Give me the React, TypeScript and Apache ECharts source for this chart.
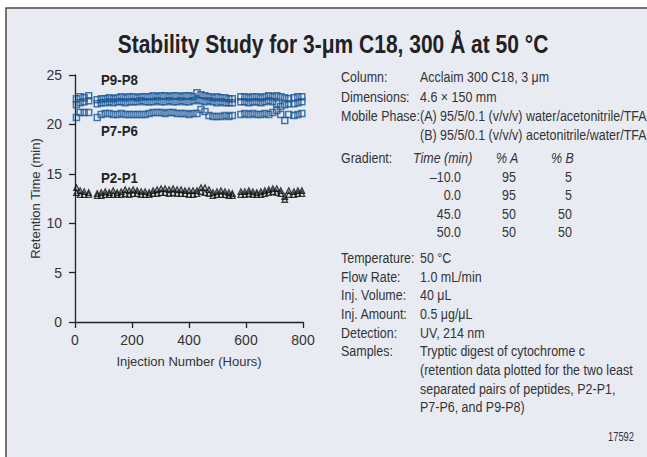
import React, { useEffect, useRef } from "react";
import * as echarts from "echarts";

// Injection time (hours) for each measurement
const hours = [
  5, 18, 32, 48,
  78, 92, 106, 120, 134, 148, 162, 176, 190, 204, 218, 232, 246,
  260, 274, 288, 302, 316, 330, 344, 358, 372, 386, 400, 414, 428, 442, 456, 470, 484, 498, 512, 526, 540, 552,
  582, 596, 610, 624, 638, 652, 666, 680, 694, 708, 722, 736, 750,
  768, 782, 796, 808,
];

const p9 = [
  22.6, 22.8, 22.7, 22.9,
  22.5, 22.6, 22.6, 22.7, 22.6, 22.7, 22.8, 22.7, 22.8, 22.8, 22.7, 22.8, 22.8,
  22.8, 22.9, 22.8, 22.9, 22.9, 22.8, 22.9, 22.9, 22.8, 22.9, 22.9, 22.8, 23.2, 23.0, 22.9, 22.8, 22.7, 22.8, 22.7, 22.7, 22.6, 22.6,
  22.8, 22.8, 22.7, 22.8, 22.8, 22.7, 22.8, 22.9, 22.8, 22.9, 22.8, 22.7, 22.6,
  22.7, 22.8, 22.8, 22.7,
];

const p8 = [
  22.0, 22.2, 22.3, 22.4,
  22.1, 22.2, 22.2, 22.3, 22.2, 22.3, 22.3, 22.2, 22.3, 22.3, 22.3, 22.4, 22.3,
  22.3, 22.3, 22.4, 22.3, 22.3, 22.4, 22.3, 22.3, 22.4, 22.3, 22.3, 22.4, 22.5, 22.4, 22.3, 22.4, 22.3, 22.2, 22.3, 22.2, 22.2, 22.2,
  22.3, 22.3, 22.2, 22.3, 22.3, 22.2, 22.3, 22.4, 22.3, 22.1, 21.8, 22.0, 22.1,
  22.1, 22.2, 22.3, 22.2,
];

const p7p6 = [
  20.7, 21.2, 21.2, 21.2,
  20.7, 21.0, 21.1, 21.1, 21.0, 21.0, 21.1, 21.0, 21.0, 21.0, 21.0, 21.0, 21.0,
  21.1, 21.2, 21.2, 21.2, 21.1, 21.2, 21.2, 21.1, 21.1, 21.1, 21.0, 21.1, 21.1, 21.5, 21.3, 20.9, 20.8, 20.8, 20.8, 20.9, 20.8, 20.9,
  21.0, 21.1, 21.0, 21.1, 21.0, 21.0, 21.1, 21.0, 21.2, 21.4, 21.0, 20.4, 21.0,
  20.9, 21.0, 21.1, 21.1,
];

const p2 = [
  13.6, 13.3, 13.2, 13.1,
  13.0, 13.1, 13.2, 13.1, 13.3, 13.1, 13.2, 13.4, 13.3, 13.4, 13.3, 13.2, 13.2,
  13.1, 13.3, 13.4, 13.5, 13.5, 13.4, 13.5, 13.4, 13.4, 13.3, 13.3, 13.3, 13.3, 13.6, 13.6, 13.4, 13.1, 13.2, 13.3, 13.2, 13.1, 13.0,
  13.2, 13.2, 13.3, 13.2, 13.1, 13.2, 13.3, 13.4, 13.5, 13.5, 13.3, 12.7, 13.3,
  13.2, 13.3, 13.3, 13.2,
];

const p1 = [
  13.1, 12.9, 12.9, 12.9,
  12.8, 12.8, 12.9, 12.9, 12.9, 12.9, 12.9, 13.0, 12.9, 13.0, 13.0, 12.9, 12.9,
  12.9, 13.0, 13.0, 13.1, 13.1, 13.0, 13.1, 13.0, 13.0, 13.0, 12.9, 12.9, 13.0, 13.2, 13.1, 13.0, 12.8, 12.9, 12.9, 12.9, 12.8, 12.8,
  12.9, 12.9, 13.0, 12.9, 12.9, 12.9, 13.0, 13.1, 13.2, 13.1, 13.0, 12.4, 12.9,
  12.9, 13.0, 13.0, 12.9,
];

const yTicks = { min: 0, max: 25, interval: 5 };
const xTicks = { min: 0, max: 800, interval: 200 };

const title = "Stability Study for 3-\u03bcm C18, 300 \u00c5 at 50 \u00b0C";
const pairLabels = ["P9-P8", "P7-P6", "P2-P1"];

const specTop = [
  ["Column:", "Acclaim 300 C18, 3 \u03bcm"],
  ["Dimensions:", "4.6 \u00d7 150 mm"],
  ["Mobile Phase:", "(A) 95/5/0.1 (v/v/v) water/acetonitrile/TFA"],
  ["", "(B) 95/5/0.1 (v/v/v) acetonitrile/water/TFA"],
];
const gradHeader = ["Time (min)", "% A", "% B"];
const gradTime = ["\u201310.0", "0.0", "45.0", "50.0"];
const gradA = ["95", "95", "50", "50"];
const gradB = ["5", "5", "50", "50"];
const specBottom = [
  ["Temperature:", "50 \u00b0C"],
  ["Flow Rate:", "1.0 mL/min"],
  ["Inj. Volume:", "40 \u03bcL"],
  ["Inj. Amount:", "0.5 \u03bcg/\u03bcL"],
  ["Detection:", "UV, 214 nm"],
  ["Samples:", "Tryptic digest of cytochrome c"],
  ["", "(retention data plotted for the two least"],
  ["", "separated pairs of peptides, P2-P1,"],
  ["", "P7-P6, and P9-P8)"],
];
const figNumber = "17592";

const FONT = "'Liberation Sans', Arial, Helvetica, sans-serif";

function pts(ys: number[]) {
  return hours.map((h, i) => [h, ys[i]]);
}

export default function App() {
  const ref = useRef<HTMLDivElement>(null);
  useEffect(() => {
    if (!ref.current) return;
    const chart = echarts.init(ref.current, undefined, { renderer: "svg" });
    const txt = "#333";
    const blue = "#1a5797";
    const SX = 0.86;
    const graphics: any[] = [
      { type: "rect", z: -10, shape: { x: 6, y: 8, width: 700, height: 500 }, style: { fill: "#e9ebf3", stroke: "#4a4a4a", lineWidth: 1.5 } },
      { type: "text", x: 333, y: 44, scaleX: 0.84, style: { text: title, font: `bold 25px ${FONT}`, fill: "#222", textAlign: "center", textVerticalAlign: "middle" } },
      { type: "text", x: 101, y: 80, scaleX: 0.95, style: { text: pairLabels[0], font: `bold 14px ${FONT}`, fill: "#222", textVerticalAlign: "middle" } },
      { type: "text", x: 101, y: 131, scaleX: 0.95, style: { text: pairLabels[1], font: `bold 14px ${FONT}`, fill: "#222", textVerticalAlign: "middle" } },
      { type: "text", x: 101, y: 178, scaleX: 0.95, style: { text: pairLabels[2], font: `bold 14px ${FONT}`, fill: "#222", textVerticalAlign: "middle" } },
    ];
    const f = `14.5px ${FONT}`;
    const t = (x: number, y: number, text: string, font = f, align = "left", sx = SX) =>
      graphics.push({ type: "text", x, y, scaleX: sx, style: { text, font, fill: txt, textAlign: align, textVerticalAlign: "middle" } });
    const topY = [77, 97, 116, 135];
    specTop.forEach((r, i) => {
      if (r[0]) t(341, topY[i], r[0]);
      t(420, topY[i], r[1]);
    });
    t(341, 158, "Gradient:");
    const fi = `italic 14.5px ${FONT}`;
    t(413, 158, gradHeader[0], fi);
    t(496, 158, gradHeader[1], fi);
    t(551, 158, gradHeader[2], fi);
    const gy = [177, 195, 214, 232];
    gradTime.forEach((v, i) => {
      t(461, gy[i], v, f, "right");
      t(516, gy[i], gradA[i], f, "right");
      t(572, gy[i], gradB[i], f, "right");
    });
    specBottom.forEach((r, i) => {
      const y = 258 + i * 18.7;
      if (r[0]) t(341, y, r[0]);
      t(420, y, r[1]);
    });
    t(634, 437, figNumber, `12px ${FONT}`, "right", 0.78);

    const axisLine = { show: true, lineStyle: { color: "#222", width: 1.3 } };
    const square = { type: "scatter", symbol: "rect", symbolSize: 6, itemStyle: { color: "rgba(0,0,0,0)", borderColor: blue, borderWidth: 1.5 } };
    const tri = { type: "scatter", symbol: "triangle", symbolSize: 5.5, itemStyle: { color: "rgba(0,0,0,0)", borderColor: "#111", borderWidth: 1.3 } };

    chart.setOption({
      animation: false,
      graphic: graphics,
      grid: { left: 75, top: 75, width: 228, height: 247, containLabel: false },
      xAxis: {
        type: "value", ...xTicks,
        axisLine, splitLine: { show: false },
        axisTick: { show: true, length: 6, lineStyle: { color: "#222", width: 1.3 } },
        axisLabel: { margin: 11, fontSize: 14, color: txt, fontFamily: FONT },
        name: "Injection Number (Hours)", nameLocation: "middle", nameGap: 33,
        nameTextStyle: { fontSize: 13, color: txt, fontFamily: FONT },
      },
      yAxis: {
        type: "value", ...yTicks,
        axisLine, splitLine: { show: false },
        axisTick: { show: true, length: 6, lineStyle: { color: "#222", width: 1.3 } },
        axisLabel: { margin: 13, fontSize: 14, color: txt, fontFamily: FONT },
        name: "Retention Time (min)", nameLocation: "middle", nameGap: 33,
        nameTextStyle: { fontSize: 13, color: txt, fontFamily: FONT },
      },
      series: [
        { ...square, name: "P9", data: pts(p9) },
        { ...square, name: "P8", data: pts(p8) },
        { ...square, name: "P7-P6", data: pts(p7p6) },
        { ...tri, name: "P2", data: pts(p2) },
        { ...tri, name: "P1", data: pts(p1) },
      ],
    });
    return () => chart.dispose();
  }, []);
  return <div ref={ref} style={{ position: "fixed", left: 0, top: 0, width: 647, height: 457, background: "#fff" }} />;
}
